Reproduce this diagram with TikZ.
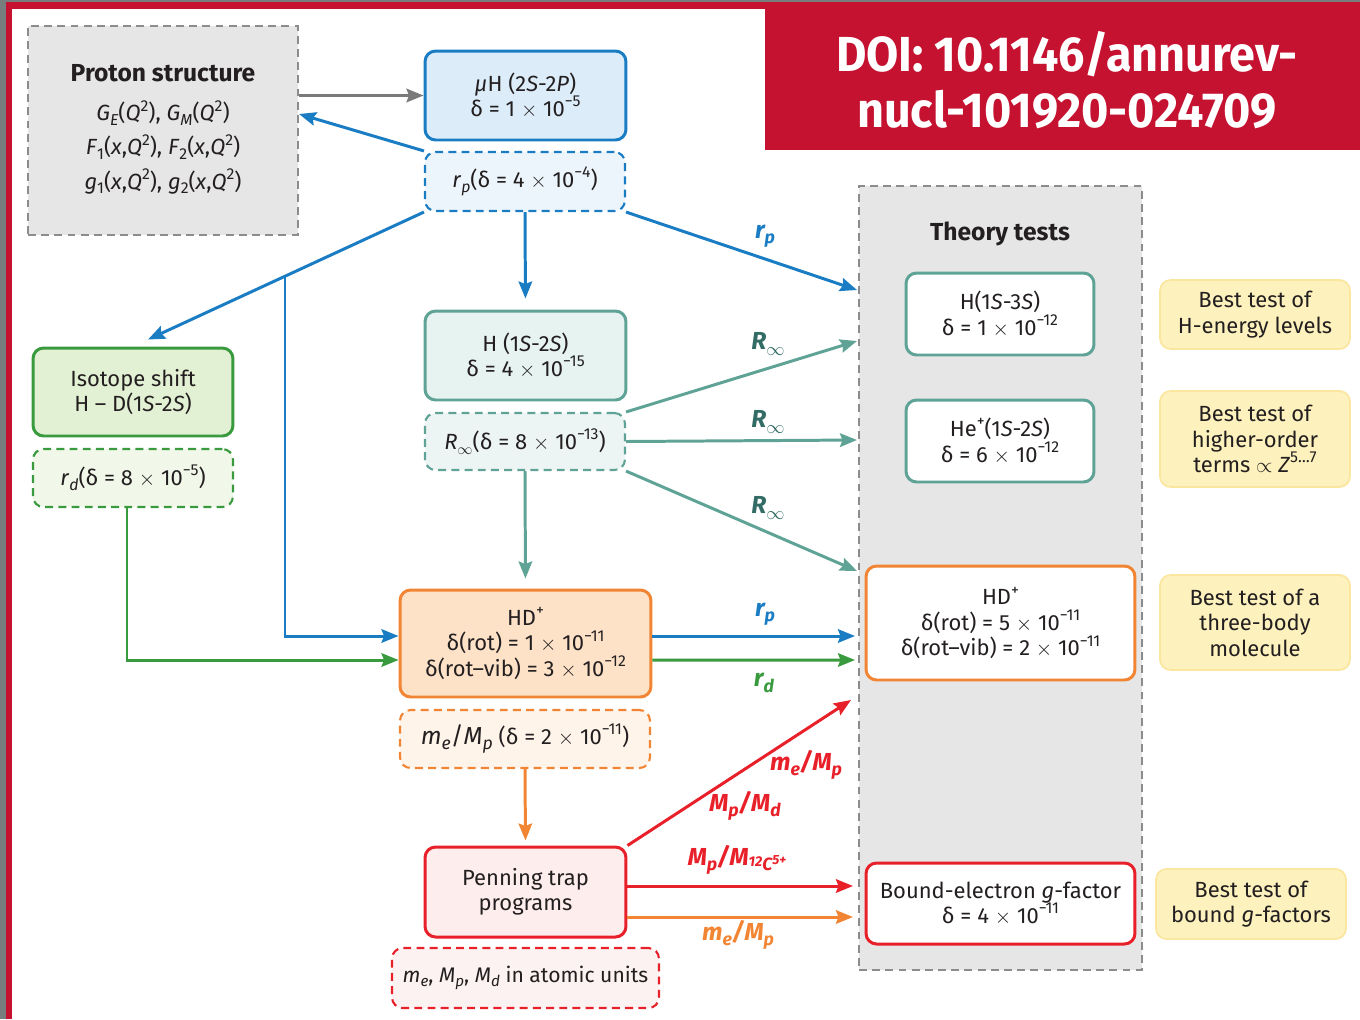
\documentclass[tikz,border=0pt]{standalone}
\usepackage{fontspec}
\setmainfont{Fira Sans}
\usepackage{graphicx}
\usetikzlibrary{arrows.meta}
\usetikzlibrary{calc}

\definecolor{txt}{RGB}{35,31,32}
\definecolor{doired}{RGB}{196,18,48}
\definecolor{framegray}{RGB}{120,126,126}
\definecolor{grayb}{RGB}{140,140,140}
\definecolor{grayf}{RGB}{230,230,230}
\definecolor{grayarrow}{RGB}{122,122,122}
\definecolor{bluec}{RGB}{26,125,196}
\definecolor{bluef}{RGB}{220,237,249}
\definecolor{bluel}{RGB}{237,245,252}
\definecolor{tealc}{RGB}{95,163,150}
\definecolor{tealf}{RGB}{230,243,241}
\definecolor{teall}{RGB}{237,245,244}
\definecolor{tealtxt}{RGB}{50,108,100}
\definecolor{greenc}{RGB}{58,154,62}
\definecolor{greenf}{RGB}{226,240,211}
\definecolor{greenl}{RGB}{241,247,233}
\definecolor{orangec}{RGB}{241,133,51}
\definecolor{orangef}{RGB}{253,226,200}
\definecolor{orangel}{RGB}{254,244,234}
\definecolor{redc}{RGB}{232,32,42}
\definecolor{redf}{RGB}{253,237,237}
\definecolor{redl}{RGB}{253,242,242}
\definecolor{yfill}{RGB}{253,241,189}
\definecolor{yedge}{RGB}{251,230,160}

\newcommand{\subx}[1]{\raisebox{-0.4ex}{\scalebox{0.72}{#1}}}
\newcommand{\supx}[1]{\raisebox{0.85ex}{\scalebox{0.72}{#1}}}
\newcommand{\tms}{$\times$}

\begin{document}
\begin{tikzpicture}[x=0.02cm,y=-0.02cm,font=\fontsize{12.5}{14.5}\selectfont,text=txt,
    box/.style={draw,rounded corners=6pt,line width=1.7pt,align=center,inner sep=1pt},
    dbox/.style={box,dashed,dash pattern=on 4.5pt off 3pt,line width=1.2pt},
    ybox/.style={draw=yedge,fill=yfill,line width=1pt,rounded corners=6pt,align=center,
      minimum width=3.8cm},
    gbox/.style={draw=grayb,fill=grayf,dashed,dash pattern=on 4.5pt off 3pt,line width=1.2pt},
    arr/.style={line width=1.7pt,-{Stealth[length=0.34cm,width=0.27cm,inset=0.05cm]}},
    lbl/.style={font=\fontsize{14}{16}\selectfont\bfseries\itshape},
    ttl/.style={font=\fontsize{14}{16}\selectfont\bfseries}]
  \useasboundingbox (0,0) rectangle (1360,1019);
  % frame and banner
  \fill[framegray] (0,0) rectangle (6,1019);
  \fill[doired] (6,0) rectangle (12,1019);
  \fill[framegray] (0,0) rectangle (1360,2);
  \fill[doired] (6,2) rectangle (1360,9);
  \fill[doired] (765,2) rectangle (1360,150);
  \node[text=white,align=center,font=\fontsize{28}{31.7}\selectfont\bfseries] (doi) at (1067,80)
    {\scalebox{0.95}[1]{DOI: 10.1146/annurev-}\\\scalebox{0.95}[1]{nucl-101920-024709}};

  % dashed panels
  \node[gbox,minimum width=5.4cm,minimum height=4.18cm] (proton) at (163,130.5) {};
  \node[ttl] (prtitle) at (163,73) {Proton structure};
  \node[align=center,font=\fontsize{12.5}{19.4}\selectfont] (prff) at (163,147)
    {\textit{G}\subx{\textit{E}}(\textit{Q}\supx{2}), \textit{G}\subx{\textit{M}}(\textit{Q}\supx{2})\\
     \textit{F}\subx{1}(\textit{x},\textit{Q}\supx{2}), \textit{F}\subx{2}(\textit{x},\textit{Q}\supx{2})\\
     \textit{g}\subx{1}(\textit{x},\textit{Q}\supx{2}), \textit{g}\subx{2}(\textit{x},\textit{Q}\supx{2})};
  \node[gbox,minimum width=5.66cm,minimum height=15.68cm] (theory) at (1000.5,578) {};
  \node[ttl] (thtitle) at (1000,234) {Theory tests};

  % left column
  \node[box,draw=bluec,fill=bluef,minimum width=4.02cm,minimum height=1.78cm] (muH) at (525.5,95.5)
    {\textit{μ}H (2\textit{S}-2\textit{P})\\δ = 1 \tms{} 10\supx{−5}};
  \node[dbox,draw=bluec,fill=bluel,minimum width=4cm,minimum height=1.18cm] (rp) at (525,181.5)
    {\textit{r}\subx{\textit{p}}(δ = 4 \tms{} 10\supx{−4})};
  \node[box,draw=greenc,fill=greenf,minimum width=4cm,minimum height=1.76cm] (iso) at (133,392)
    {Isotope shift\\H – D(1\textit{S}-2\textit{S})};
  \node[dbox,draw=greenc,fill=greenl,minimum width=4cm,minimum height=1.16cm] (rd) at (133,478)
    {\textit{r}\subx{\textit{d}}(δ = 8 \tms{} 10\supx{−5})};
  \node[box,draw=tealc,fill=tealf,minimum width=4.02cm,minimum height=1.78cm] (h12) at (525.5,355.5)
    {H (1\textit{S}-2\textit{S})\\δ = 4 \tms{} 10\supx{−15}};
  \node[dbox,draw=tealc,fill=teall,minimum width=4cm,minimum height=1.14cm] (rinf) at (525,441.5)
    {\textit{R}\subx{$\infty$}(δ = 8 \tms{} 10\supx{−13})};
  \node[box,draw=orangec,fill=orangef,minimum width=5.02cm,minimum height=2.14cm] (hdp) at (525.5,643.5)
    {HD\supx{+}\\δ(rot) = 1 \tms{} 10\supx{−11}\\δ(rot–vib) = 3 \tms{} 10\supx{−12}};
  \node[dbox,draw=orangec,fill=orangel,minimum width=5cm,minimum height=1.16cm] (memp) at (525,739)
    {{\fontsize{14}{16}\selectfont\textit{m}\subx{\textit{e}}/\textit{M}\subx{\textit{p}}} (δ = 2 \tms{} 10\supx{−11})};
  \node[box,draw=redc,fill=redf,minimum width=4.02cm,minimum height=1.8cm] (pen) at (525.5,892)
    {Penning trap\\programs};
  \node[dbox,draw=redc,fill=redl,minimum width=5.34cm,minimum height=1.2cm,font=\fontsize{12}{14}\selectfont] (au) at (525.5,978)
    {\textit{m}\subx{\textit{e}}, \textit{M}\subx{\textit{p}}, \textit{M}\subx{\textit{d}} in atomic units};

  % theory tests
  \node[box,draw=tealc,fill=white,minimum width=3.76cm,minimum height=1.64cm] (h13) at (1000,314)
    {H(1\textit{S}-3\textit{S})\\δ = 1 \tms{} 10\supx{−12}};
  \node[box,draw=tealc,fill=white,minimum width=3.76cm,minimum height=1.64cm] (hep) at (1000,441)
    {He\supx{+}(1\textit{S}-2\textit{S})\\δ = 6 \tms{} 10\supx{−12}};
  \node[box,draw=orangec,fill=white,minimum width=5.38cm,minimum height=2.28cm] (hdt) at (1000.5,623)
    {HD\supx{+}\\δ(rot) = 5 \tms{} 10\supx{−11}\\δ(rot–vib) = 2 \tms{} 10\supx{−11}};
  \node[box,draw=redc,fill=white,minimum width=5.38cm,minimum height=1.62cm] (bnd) at (1000.5,903.5)
    {Bound-electron \textit{g}-factor\\δ = 4 \tms{} 10\supx{−11}};

  \node[ybox,minimum height=1.38cm] (y1) at (1255,314.5) {Best test of\\H-energy levels};
  \node[ybox,minimum height=1.92cm] (y2) at (1255,439) {Best test of\\higher-order\\terms $\propto$ \textit{Z}\supx{5…7}};
  \node[ybox,minimum height=1.9cm] (y3) at (1255,622.5) {Best test of a\\three-body\\molecule};
  \node[ybox,minimum height=1.4cm] (y4) at (1251,904) {Best test of\\bound \textit{g}-factors};

  % free ends at the theory panel
  \coordinate (t1) at (857,290);
  \coordinate (t2) at (857,341);
  \coordinate (t3) at (857,440);
  \coordinate (t4) at (857,571);
  \coordinate (t5) at (855,636);
  \coordinate (t6) at (855,660);
  \coordinate (t7) at (851,700);
  \coordinate (t8) at (853,886);
  \coordinate (t9) at (853,917);
  \coordinate (br) at (285,276);

  % connectors
  \draw[arr,grayarrow] (proton.east |- muH.west) -- (muH.west);
  \draw[arr,bluec] (rp.north west) -- ($(proton.east)+(0,-16.5)$);
  \draw[arr,bluec] (rp.south west) -- ($(iso.north)+(15,-7)$);
  \draw[arr,bluec] (br) |- ($(hdp.west)+(0,-7.5)$);
  \draw[arr,bluec,shorten >=0.22cm] (rp.south) -- (h12.north);
  \draw[arr,bluec] (rp.south east) -- (t1);
  \draw[arr,tealc] (rinf.north east) -- (t2);
  \draw[arr,tealc] (rinf.east) -- (t3);
  \draw[arr,tealc] (rinf.south east) -- (t4);
  \draw[arr,tealc,shorten >=0.2cm] (rinf.south) -- (hdp.north);
  \draw[arr,greenc] ($(rd.south)+(-6,0)$) |- ($(hdp.west)+(0,16.5)$);
  \draw[arr,bluec] ($(hdp.east)+(0,-7.5)$) -- (t5);
  \draw[arr,greenc] ($(hdp.east)+(0,16.5)$) -- (t6);
  \draw[arr,orangec,shorten >=0.1cm] (memp.south) -- (pen.north);
  \draw[arr,redc] (pen.north east) -- (t7);
  \draw[arr,redc] ($(pen.east)+(0,-6)$) -- (t8);
  \draw[arr,orangec] ($(pen.east)+(0,25)$) -- (t9);

  % connector labels
  \node[lbl,text=bluec] (lrp1) at (765,236) {r\subx{p}};
  \node[lbl,text=tealtxt] (lR1) at (768,344) {R\subx{$\infty$}};
  \node[lbl,text=tealtxt] (lR2) at (768,422) {R\subx{$\infty$}};
  \node[lbl,text=tealtxt] (lR3) at (768,508) {R\subx{$\infty$}};
  \node[lbl,text=bluec] (lrp2) at (765,614) {r\subx{p}};
  \node[lbl,text=greenc] (lrd) at (764,683) {r\subx{d}};
  \node[lbl,text=redc] (lme1) at (806,765) {m\subx{e}/M\subx{p}};
  \node[lbl,text=redc] (lmd) at (745,806) {M\subx{p}/M\subx{d}};
  \node[lbl,text=redc] (lmc) at (737,860)
    {M\subx{p}/M\subx{\raisebox{0.45ex}{\scalebox{0.8}{12}}C\raisebox{0.7ex}{\scalebox{0.75}{5+}}}};
  \node[lbl,text=orangec] (lme2) at (738,935) {m\subx{e}/M\subx{p}};
\end{tikzpicture}
\end{document}
